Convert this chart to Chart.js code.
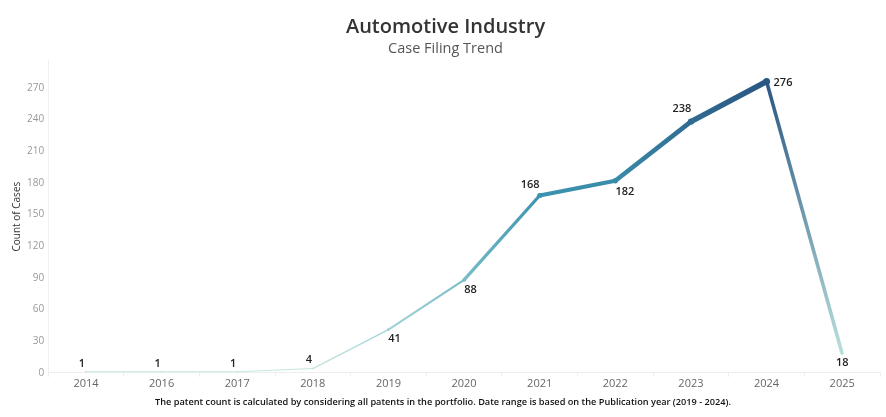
<!DOCTYPE html>
<html>
<head>
<meta charset="utf-8">
<script src="https://cdn.jsdelivr.net/npm/chart.js@4.4.1/dist/chart.umd.min.js"></script>
<style>
  html, body { margin: 0; padding: 0; background: #fff; }
  #wrap { width: 886px; height: 417px; }
</style>
</head>
<body>
<div id="wrap"><canvas id="myChart"></canvas></div>
<script>
// chart data
const years = ['2014', '2016', '2017', '2018', '2019', '2020', '2021', '2022', '2023', '2024', '2025'];
const cases = [1, 1, 1, 4, 41, 88, 168, 182, 238, 276, 18];
const yTicks = [0, 30, 60, 90, 120, 150, 180, 210, 240, 270];
const footNote = 'The patent count is calculated by considering all patents in the portfolio. Date range is based on the Publication year (2019 - 2024).';

// where each value label sits relative to its point (dx, dy, align)
const labelPos = [
  [-4, -8, 'center'], [-4, -8, 'center'], [-4, -8, 'center'], [-4, -9, 'center'],
  [6, 9.5, 'center'], [6.5, 10, 'center'], [-9.5, -11, 'center'], [9.5, 11.5, 'center'],
  [-9, -12.5, 'center'], [7, 1, 'left'], [0, 9, 'center']
];

const maxVal = Math.max(...cases);

// Tableau-ish blue-teal ramp
const ramp = [[0, [200, 232, 226]], [0.55, [62, 156, 182]], [1, [42, 86, 130]]];
function colorFor(v) {
  const t = Math.min(1, Math.max(0, v / maxVal));
  for (let i = 1; i < ramp.length; i++) {
    if (t <= ramp[i][0]) {
      const a = ramp[i - 1], b = ramp[i];
      const k = (t - a[0]) / (b[0] - a[0]);
      const c = a[1].map((x, j) => Math.round(x + (b[1][j] - x) * k));
      return 'rgb(' + c.join(',') + ')';
    }
  }
  return 'rgb(' + ramp[ramp.length - 1][1].join(',') + ')';
}
function widthFor(v) {
  return 1 + 4.8 * v / maxVal;
}

const valueLabels = {
  id: 'valueLabels',
  afterDatasetsDraw(chart) {
    const c = chart.ctx;
    const meta = chart.getDatasetMeta(0);
    c.save();
    c.font = '600 11px "Open Sans", sans-serif';
    c.fillStyle = '#222';
    c.textBaseline = 'middle';
    meta.data.forEach((pt, i) => {
      const p = labelPos[i];
      c.textAlign = p[2];
      c.fillText(String(cases[i]), pt.x + p[0], pt.y + p[1]);
    });
    c.restore();
  }
};

// footnote centred on the whole page, under the axis labels
const footer = {
  id: 'footer',
  afterDraw(chart) {
    const c = chart.ctx;
    c.save();
    c.font = '600 9.2px "Open Sans", sans-serif';
    c.fillStyle = '#111';
    c.textAlign = 'center';
    c.textBaseline = 'middle';
    c.fillText(footNote, chart.width / 2, 402);
    c.restore();
  }
};

const ctx = document.getElementById('myChart').getContext('2d');
const myChart = new Chart(ctx, {
  type: 'line',
  data: {
    labels: years,
    datasets: [{
      label: 'Count of Cases',
      data: cases,
      pointRadius: c => widthFor(cases[c.dataIndex]) / 2 + 0.6,
      pointBackgroundColor: c => colorFor(cases[c.dataIndex]),
      pointBorderWidth: 0,
      borderColor: '#3e9cb6',
      borderWidth: 2,
      segment: {
        borderColor: s => {
          const g = ctx.createLinearGradient(s.p0.x, s.p0.y, s.p1.x, s.p1.y);
          g.addColorStop(0, colorFor(cases[s.p0DataIndex]));
          g.addColorStop(1, colorFor(cases[s.p1DataIndex]));
          return g;
        },
        borderWidth: s => (widthFor(cases[s.p0DataIndex]) + widthFor(cases[s.p1DataIndex])) / 2
      }
    }]
  },
  options: {
    responsive: true,
    maintainAspectRatio: false,
    animation: false,
    layout: { padding: { left: 11, right: 6, top: 0, bottom: 27 } },
    plugins: {
      legend: { display: false },
      tooltip: { enabled: false },
      title: {
        display: true,
        text: 'Automotive Industry',
        color: '#333',
        font: { family: '"Open Sans", sans-serif', size: 20, weight: '600' },
        padding: { top: 15, bottom: 0 }
      },
      subtitle: {
        display: true,
        text: 'Case Filing Trend',
        color: '#555',
        font: { family: '"Open Sans", sans-serif', size: 14.5 },
        padding: { top: 1, bottom: 3 }
      }
    },
    scales: {
      x: {
        offset: true,
        grid: { display: true, drawOnChartArea: false, color: '#eee', tickLength: 4, offset: true },
        border: { color: '#eee' },
        ticks: { color: '#666', font: { family: '"Open Sans", sans-serif', size: 11 }, padding: 0 }
      },
      y: {
        min: 0,
        max: 296,
        afterBuildTicks: scale => {
          scale.ticks = yTicks.map(v => ({ value: v }));
        },
        grid: { display: false, drawTicks: false },
        border: { color: '#f0f0f0' },
        ticks: { color: '#999', font: { family: '"Open Sans", sans-serif', size: 10 }, padding: 4 },
        title: {
          display: true,
          text: 'Count of Cases',
          color: '#333',
          font: { family: '"Open Sans", sans-serif', size: 10 },
          padding: { top: 0, bottom: 0 }
        }
      }
    }
  },
  plugins: [valueLabels, footer]
});
</script>
</body>
</html>
